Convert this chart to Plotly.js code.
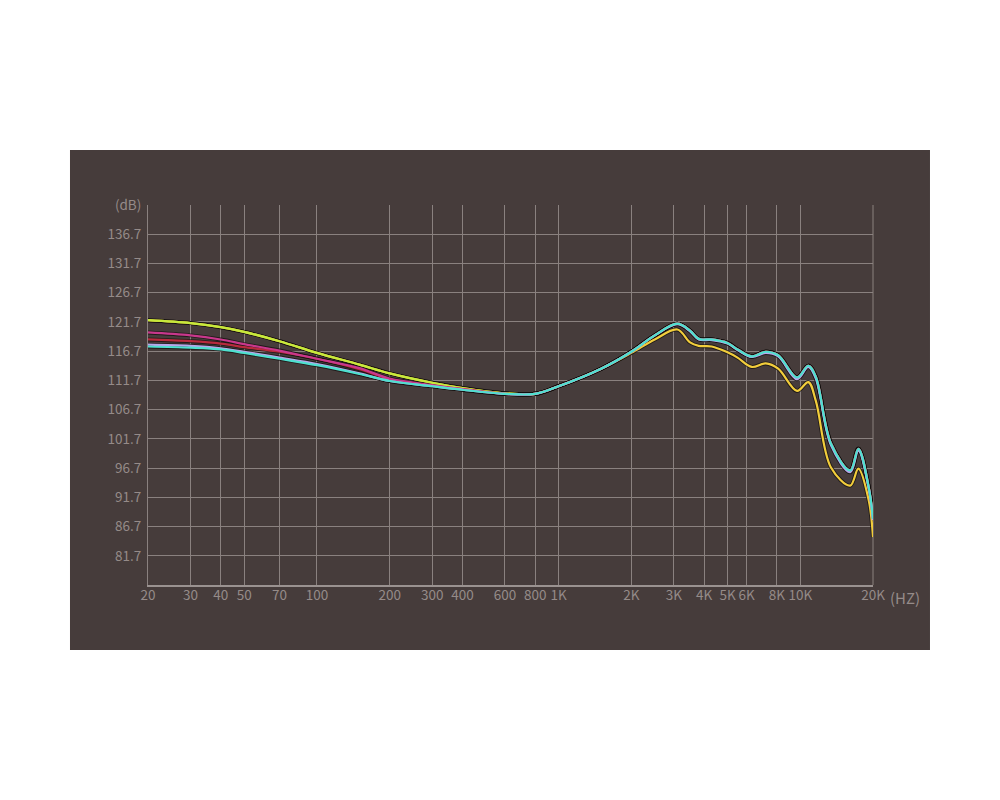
<!DOCTYPE html>
<html>
<head>
<meta charset="utf-8">
<script src="https://cdn.plot.ly/plotly-3.0.1.min.js"></script>
<style>
  html, body { margin:0; padding:0; background:#fff; }
  #chart { width:1000px; height:800px; }
</style>
</head>
<body>
<div id="chart"></div>
<script>
// frequency grid (Hz) shared by all curves
const freqs = [20, 30, 40, 50, 70, 100, 150, 200, 300, 400, 600, 800, 1000, 1500, 2000, 2500,
  3100, 3500, 3800, 4300, 5000, 5500, 6300, 7200, 8100, 9700, 10800, 11600, 13400, 16100, 17400, 19200, 20000];

// response curves (dB)
const cyanDb = [117.5, 117.3, 117.0, 116.4, 115.4, 114.3, 112.8, 111.6, 110.7, 110.1, 109.4, 109.4, 110.7, 113.7, 116.6, 119.4,
  121.4, 120.2, 118.8, 118.7, 118.1, 117.0, 115.8, 116.6, 116.0, 112.2, 114.2, 112.3, 100.9, 96.3, 100.0, 93.4, 88.0];
const lavenderDb = [117.8, 117.6, 117.2, 116.6, 115.6, 114.5, 112.9, 111.6, 110.7, 110.1, 109.4, 109.4, 110.7, 113.7, 116.6, 119.4,
  121.3, 120.1, 118.7, 118.6, 118.0, 116.9, 115.7, 116.4, 115.8, 111.9, 114.0, 112.0, 100.6, 96.0, 99.7, 93.2, 87.8];
const redDb = [118.7, 118.4, 118.0, 117.4, 116.6, 115.4, 113.6, 111.9, 110.8, 110.2, 109.4, 109.4, 110.7, 113.7, 116.6, 119.4,
  121.4, 120.2, 118.8, 118.7, 118.1, 117.0, 115.8, 116.6, 116.0, 112.2, 114.2, 112.3, 100.9, 96.3, 100.0, 93.4, 88.0];
const magentaDb = [119.9, 119.4, 118.7, 117.9, 116.8, 115.4, 113.8, 112.0, 110.9, 110.2, 109.4, 109.4, 110.7, 113.7, 116.6, 119.4,
  121.4, 120.2, 118.8, 118.7, 118.1, 117.0, 115.8, 116.6, 116.0, 112.2, 114.2, 112.3, 100.9, 96.3, 100.0, 93.4, 88.0];
const greenDb = [122.0, 121.5, 120.8, 120.0, 118.4, 116.4, 114.4, 112.9, 111.3, 110.4, 109.5, 109.4, 110.7, 113.7, 116.6, 119.4,
  121.4, 120.2, 118.8, 118.7, 118.1, 117.0, 115.8, 116.6, 116.0, 112.2, 114.2, 112.3, 100.9, 96.3, 100.0, 93.4, 88.0];
const yellowDb = [122.0, 121.5, 120.8, 120.0, 118.4, 116.4, 114.4, 112.9, 111.3, 110.4, 109.5, 109.4, 110.7, 113.7, 116.4, 118.7,
  120.4, 118.2, 117.6, 117.5, 116.5, 115.6, 114.0, 114.6, 113.7, 109.9, 111.4, 108.2, 96.8, 93.7, 96.6, 91.2, 84.9];

// axis ticks
const xTickVals = [20, 30, 40, 50, 70, 100, 200, 300, 400, 600, 800, 1000, 2000, 3000, 4000, 5000, 6000, 8000, 10000, 20000];
const xTickText = ['20', '30', '40', '50', '70', '100', '200', '300', '400', '600', '800', '1K', '2K', '3K', '4K', '5K', '6K', '8K', '10K', '20K'];
const yTickVals = [81.7, 86.7, 91.7, 96.7, 101.7, 106.7, 111.7, 116.7, 121.7, 126.7, 131.7, 136.7, 141.7];
const yTickText = ['81.7', '86.7', '91.7', '96.7', '101.7', '106.7', '111.7', '116.7', '121.7', '126.7', '131.7', '136.7', '(dB)'];

const series = [
  { y: yellowDb, color: '#f2cd3c' },
  { y: greenDb, color: '#c6ea3c' },
  { y: redDb, color: '#b82a3e' },
  { y: magentaDb, color: '#c8388c' },
  { y: lavenderDb, color: '#b8a6ea' },
  { y: cyanDb, color: '#4fe0cf' }
];

const traces = [];
// dark outline under each curve, then the coloured line
series.forEach(s => {
  traces.push({ x: freqs, y: s.y, mode: 'lines', hoverinfo: 'skip',
    line: { color: 'rgba(20,16,15,0.75)', width: 4, shape: 'spline', smoothing: 1 } });
});
series.forEach(s => {
  traces.push({ x: freqs, y: s.y, mode: 'lines',
    line: { color: s.color, width: 2.2, shape: 'spline', smoothing: 1 } });
});

const bg = '#463c3b';
const grid = '#8a817f';
const label = '#958b89';
const font = '"Noto Sans CJK SC", "Noto Sans", sans-serif';

const layout = {
  width: 1000, height: 800,
  margin: { l: 148, r: 127, t: 205, b: 215 },
  paper_bgcolor: '#ffffff',
  plot_bgcolor: bg,
  showlegend: false,
  font: { family: font, size: 13, color: label },
  xaxis: {
    type: 'log',
    range: [Math.log10(20), Math.log10(20000)],
    tickvals: xTickVals, ticktext: xTickText,
    showgrid: true, gridcolor: grid, gridwidth: 1,
    zeroline: false, showline: true, linecolor: '#9a9290', linewidth: 2,
    ticks: '', ticklabelstandoff: -3,
    tickfont: { family: font, size: 13.5, color: label }
  },
  yaxis: {
    range: [76.7, 141.7],
    tickvals: yTickVals, ticktext: yTickText,
    showgrid: true, gridcolor: grid, gridwidth: 1,
    zeroline: false, showline: true, linecolor: grid, linewidth: 1,
    ticks: '', ticklabelstandoff: 3,
    tickfont: { family: font, size: 13.5, color: label }
  },
  shapes: [
    { type: 'rect', xref: 'paper', yref: 'paper', x0: -0.1076, x1: 1.0786, y0: -0.171, y1: 1.1447,
      fillcolor: bg, line: { width: 0 }, layer: 'below' },
    { type: 'line', xref: 'paper', yref: 'paper', x0: 1, x1: 1, y0: 0, y1: 1,
      line: { color: grid, width: 1 }, layer: 'below' }
  ],
  annotations: [
    { text: '(HZ)', xref: 'paper', yref: 'paper', x: 1.021, y: 0, xanchor: 'left', yanchor: 'top',
      yshift: 0, showarrow: false, font: { family: font, size: 15, color: label } }
  ]
};

Plotly.newPlot('chart', traces, layout, { displayModeBar: false, staticPlot: true });
</script>
</body>
</html>
